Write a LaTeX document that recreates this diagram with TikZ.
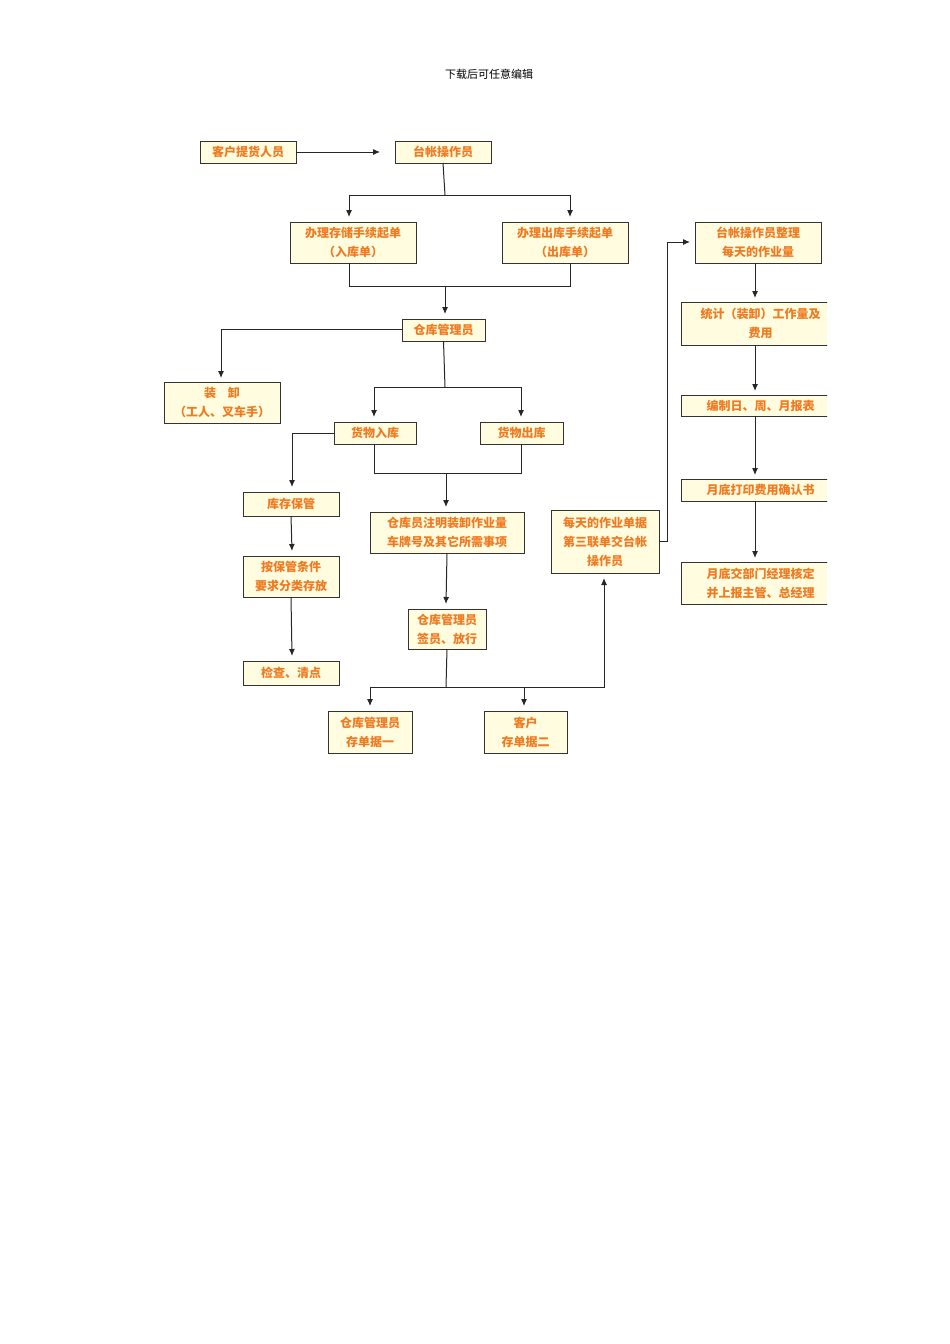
\documentclass[tikz,border=0pt]{standalone}
\usepackage{fontspec}
\usetikzlibrary{arrows.meta}
\newfontfamily\cjk{Noto Sans CJK SC}
\definecolor{boxfill}{HTML}{FFFCE0}
\definecolor{txt}{HTML}{F07A20}
\begin{document}
\begin{tikzpicture}[x=1pt,y=-1pt,
  bx/.style={draw=black!80,line width=1pt,fill=boxfill},
  tx/.style={text=txt,font=\cjk\bfseries\fontsize{12}{19}\selectfont,align=center},
  ar/.style={draw=black!85,line width=1pt,-{Latex[length=7pt,width=6pt]}},
  ln/.style={draw=black!85,line width=1pt}]
\useasboundingbox (0,0) rectangle (950,1344);
\node[font=\cjk\fontsize{11}{13}\selectfont] (hdr) at (489,74) {下载后可任意编辑};
\newcommand{\bx}[6]{\draw[bx] (#2,#3) rectangle (#4,#5); \node[tx] (#1) at ({(#2+#4)/2},{(#3+#5)/2}) {#6};
 \coordinate (#1n) at ({(#2+#4)/2},#3); \coordinate (#1s) at ({(#2+#4)/2},#5);}
\bx{kh}{200}{141}{296}{163}{客户提货人员}
\bx{tz}{395}{141}{491}{163}{台帐操作员}
\bx{rk}{290}{222}{416}{263}{办理存储手续起单\\（入库单）}
\bx{ck}{502}{222}{628}{263}{办理出库手续起单\\（出库单）}
\bx{gl}{402}{319}{485}{341}{仓库管理员}
\bx{zx}{164}{382}{280}{423}{装\quad 卸\\（工人、叉车手）}
\bx{hr}{334}{422}{416}{444}{货物入库}
\bx{hc}{480}{422}{563}{444}{货物出库}
\bx{bg}{243}{492}{339}{516}{库存保管}
\bx{tj}{243}{556}{339}{597}{按保管条件\\要求分类存放}
\bx{jc}{243}{661}{339}{685}{检查、清点}
\bx{zm}{370}{512}{524}{553}{仓库员注明装卸作业量\\车牌号及其它所需事项}
\bx{qy}{408}{609}{486}{649}{仓库管理员\\签员、放行}
\bx{mt}{551}{510}{659}{573}{每天的作业单据\\第三联单交台帐\\操作员}
\bx{d1}{328}{711}{412}{753}{仓库管理员\\存单据一}
\bx{d2}{484}{711}{567}{753}{客户\\存单据二}
\bx{zl}{695}{222}{821}{263}{台帐操作员整理\\每天的作业量}
\begin{scope}
\clip (600,200) rectangle (827,620);
\bx{fy}{681}{302}{840}{345}{统计（装卸）工作量及\\费用}
\bx{bz}{681}{395}{840}{416}{编制日、周、月报表}
\bx{dy}{681}{479}{840}{501}{月底打印费用确认书}
\bx{hd}{681}{562}{840}{604}{月底交部门经理核定\\并上报主管、总经理}
\end{scope}
\coordinate (fys) at (755,345);
\coordinate (bzs) at (755,416);
\coordinate (dys) at (755,501);
\coordinate (zls) at (755,263);
\coordinate (a1) at (380,152);
\draw[ar] (296,152) -- (a1);
\draw[ln] (tzs) -- (445,195); \draw[ar] (445,195) -| (349,217); \draw[ar] (445,195) -| (570,217);
\draw[ln] (349,263) |- (570,286) -- (570,263); \draw[ar] (445,286) -- (445,314);
\draw[ar] (402,329) -| (221,378);
\draw[ln] (gls) -- (445,387); \draw[ar] (445,387) -| (374,417); \draw[ar] (445,387) -| (521,417);
\draw[ar] (334,433) -| (292,487);
\draw[ln] (374,444) |- (521,473) -- (521,444); \draw[ar] (446,473) -- (446,507);
\draw[ar] (bgs) -- (292,551);
\draw[ar] (tjs) -- (292,656);
\draw[ar] (zms) -- (446,604);
\draw[ln] (qys) -- (446,687);
\draw[ar] (446,687) -| (370,706); \draw[ar] (446,687) -| (524,706); \draw[ar] (446,687) -| (604,578);
\draw[ar] (659,541) -- (667,541) |- (690,242);
\draw[ar] (zls) -- (755,298);
\draw[ar] (fys) -- (755,391);
\draw[ar] (bzs) -- (755,475);
\draw[ar] (dys) -- (755,558);
\end{tikzpicture}
\end{document}
